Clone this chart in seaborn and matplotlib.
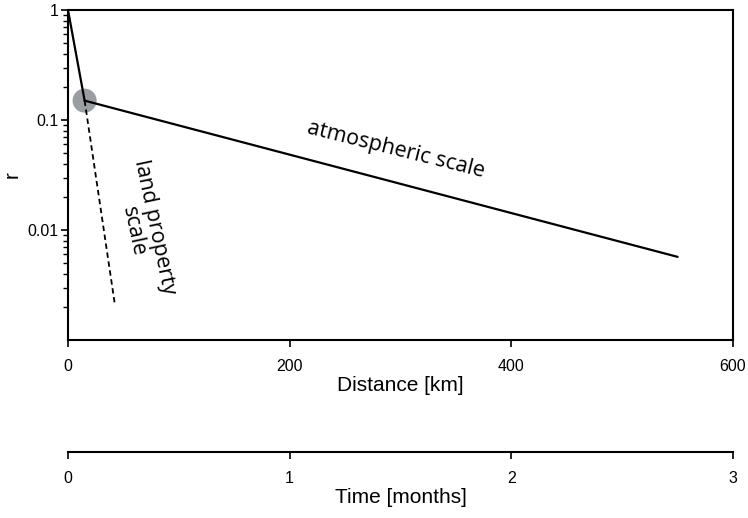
import matplotlib
matplotlib.use("Agg")
import matplotlib.pyplot as plt
import seaborn as sns
import pandas as pd

# data
dist_steep = [0, 15]
r_steep = [1.0, 0.15]
dist_atm = [15, 550]
r_atm = [0.15, 0.0057]
dist_land = [15, 42]
r_land = [0.15, 0.0022]
knee_dist = [15]
knee_r = [0.15]
x_ticks = [0, 200, 400, 600]
y_ticks = [0.01, 0.1, 1]
y_ticklabels = ["0.01", "0.1", "1"]
time_ticks = [0, 1, 2, 3]

sns.set_theme(style="ticks")
plt.rcParams['font.family'] = ['Liberation Sans Narrow', 'Liberation Sans', 'DejaVu Sans']
plt.rcParams['text.color'] = 'black'
plt.rcParams['axes.labelcolor'] = 'black'

fig = plt.figure(figsize=(7.48, 5.18), dpi=100)
ax = fig.add_axes([68/748, 1-340/518, (733-68)/748, 330/518])

df_knee = pd.DataFrame({"d": knee_dist, "r": knee_r})
sns.scatterplot(data=df_knee, x="d", y="r", ax=ax, s=300, color="#9a9ea2",
                edgecolor="none", zorder=1)
sns.lineplot(x=dist_steep, y=r_steep, ax=ax, color="black", lw=1.6, zorder=3)
sns.lineplot(x=dist_atm, y=r_atm, ax=ax, color="black", lw=1.6, zorder=3)
sns.lineplot(x=dist_land, y=r_land, ax=ax, color="black", lw=1.3,
             linestyle=(0, (3, 2)), zorder=3)

ax.set_yscale("log")
ax.set_xlim(0, 600)
ax.set_ylim(0.001, 1)
ax.set_xticks(x_ticks)
ax.set_xticklabels([str(v) for v in x_ticks])
ax.set_yticks(y_ticks)
ax.set_yticklabels(y_ticklabels)
ax.tick_params(axis="both", which="major", labelsize=11.5, length=5, width=1.2,
               direction="out", pad=9, colors="black")
ax.tick_params(axis="y", which="major", pad=2)
ax.tick_params(axis="y", which="minor", length=3.5, width=1.0, colors="black")
for s in ax.spines.values():
    s.set_linewidth(1.5)
    s.set_color("black")

lab_font = ['Liberation Sans', 'DejaVu Sans']
ax.set_xlabel("Distance [km]", fontsize=15, family=lab_font, labelpad=1)
ax.set_ylabel("r", fontsize=15, family=lab_font)
ax.yaxis.set_label_coords(-46/665, 0.5)

sec = ax.secondary_xaxis(-112/330, functions=(lambda x: x/200, lambda m: m*200))
sec.set_xticks(time_ticks)
sec.set_xticklabels([str(v) for v in time_ticks])
sec.tick_params(labelsize=11.5, length=5, width=1.2, pad=9, colors="black")
sec.spines["bottom"].set_linewidth(1.5)
sec.spines["bottom"].set_color("black")
sec.set_xlabel("Time [months]", fontsize=15, family=lab_font, labelpad=1)

ax.text(296, 0.053, "atmospheric scale", rotation=-14, ha="center", va="center",
        fontsize=15.5, family=['Open Sans', 'DejaVu Sans'], rotation_mode="anchor")
ax.text(68.6, 0.0102, "land property\nscale", rotation=-78, ha="center", va="center",
        fontsize=15.5, family=['Open Sans', 'DejaVu Sans'], multialignment="center",
        linespacing=1.0, rotation_mode="anchor")

fig.savefig("out.png", dpi=100)
